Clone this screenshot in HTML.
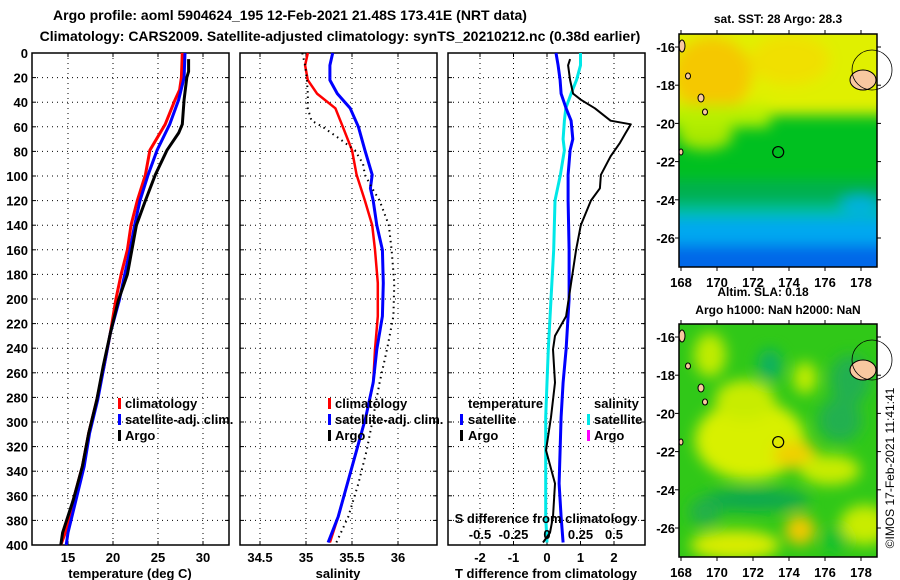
<!DOCTYPE html>
<html><head><meta charset="utf-8">
<style>
html,body{margin:0;padding:0;background:#fff;}
svg{display:block;font-family:"Liberation Sans",Arial,sans-serif;font-weight:bold;}
</style></head>
<body>
<svg id="chart" width="900" height="580" viewBox="0 0 900 580" xmlns="http://www.w3.org/2000/svg">
<defs>
<filter id="blur1" x="-20%" y="-20%" width="140%" height="140%"><feGaussianBlur stdDeviation="7"/></filter>
<filter id="blur2" x="-30%" y="-30%" width="160%" height="160%"><feGaussianBlur stdDeviation="7"/></filter>
<clipPath id="clipMap1"><rect x="679" y="34" width="198" height="233"/></clipPath>
<clipPath id="clipMap2"><rect x="679" y="324" width="198" height="233"/></clipPath>
</defs>
<text x="290" y="20" font-size="14" text-anchor="middle">Argo profile: aoml 5904624_195 12-Feb-2021 21.48S 173.41E (NRT data)</text>
<text x="340" y="41" font-size="14" text-anchor="middle">Climatology: CARS2009. Satellite-adjusted climatology: synTS_20210212.nc (0.38d earlier)</text>
<g id="plots"></g>
<g id="maps"></g>
</svg>
<script>
// ---------- data ----------
const depthTicks = [0,20,40,60,80,100,120,140,160,180,200,220,240,260,280,300,320,340,360,380,400];
const tempTicks = [15,20,25,30];
const salTicks = [34.5,35,35.5,36];
const tdiffTicks = [-2,-1,0,1,2];
const sdiffTicks = [-0.5,-0.25,0,0.25,0.5];
const sdiffTickLabels = ['-0.5','-0.25','0','0.25','0.5'];

const tClimDepth = [0,20,30,38,58,79,99,120,140,160,180,201,228,255,282,309,336,363,390,400];
const tClimVal   = [27.7,27.6,27.4,26.9,25.8,24.1,23.6,22.7,22.0,21.6,20.9,20.3,19.7,19.0,18.2,17.3,16.6,15.6,14.7,14.2];
const tSatDepth  = [0,20,38,58,79,99,120,140,160,180,201,228,255,282,309,336,363,390,400];
const tSatVal    = [28.0,27.9,27.3,26.3,24.9,23.9,23.0,22.4,21.9,21.3,20.7,19.7,19.0,18.3,17.4,16.8,15.9,15.0,14.8];
const tArgoDepth = [5,15,20,38,58,65,79,99,120,140,160,180,201,228,255,282,309,336,363,390,400];
const tArgoVal   = [28.4,28.4,28.2,27.9,27.7,27.3,26.0,24.7,23.6,22.6,22.1,21.6,20.6,19.7,18.9,18.2,17.3,16.6,15.6,14.4,14.2];

const sClimDepth = [0,10,22,33,45,60,79,99,120,140,160,187,214,241,268,296,323,350,377,398];
const sClimVal   = [35.02,34.99,35.02,35.12,35.32,35.40,35.50,35.55,35.64,35.72,35.75,35.78,35.78,35.75,35.73,35.65,35.55,35.45,35.35,35.26];
const sSatDepth  = [0,10,22,33,45,60,79,99,110,120,140,160,187,214,241,268,296,323,350,377,398];
const sSatVal    = [35.29,35.26,35.26,35.34,35.48,35.57,35.64,35.72,35.70,35.73,35.77,35.83,35.84,35.83,35.77,35.73,35.65,35.55,35.45,35.35,35.24];
const sArgoDepth = [0,10,22,33,45,55,60,70,79,90,99,110,120,140,160,187,214,241,268,296,323,350,377,398];
const sArgoVal   = [34.96,34.99,35.01,35.02,35.02,35.06,35.18,35.37,35.53,35.62,35.64,35.72,35.80,35.90,35.93,35.96,35.95,35.88,35.80,35.73,35.66,35.57,35.46,35.33];

const dtSatDepth = [0,10,22,33,45,55,70,79,99,120,160,200,241,268,296,323,350,377,398];
const dtSatVal   = [0.27,0.33,0.39,0.42,0.57,0.72,0.77,0.69,0.63,0.63,0.66,0.66,0.57,0.48,0.42,0.39,0.36,0.42,0.48];
const dtArgoDepth = [5,10,22,33,38,45,55,58,65,73,84,99,110,120,140,160,187,214,230,241,268,296,323,350,377,390,398];
const dtArgoVal   = [0.69,0.63,0.69,0.78,1.01,1.43,1.90,2.50,2.35,2.18,1.90,1.61,1.58,1.31,1.01,0.87,0.72,0.57,0.24,0.18,0.24,0.12,-0.03,0.24,0.18,0.09,-0.12];
const dsSatDepth = [0,10,22,33,45,55,70,79,99,120,160,200,241,268,296,323,350,377,398];
const dsSatVal   = [0.25,0.25,0.22,0.18,0.14,0.13,0.12,0.13,0.10,0.06,0.05,0.03,0.01,0.00,-0.01,-0.01,-0.01,-0.01,0.00];

// ---------- helpers ----------
const NS='http://www.w3.org/2000/svg';
const plots=document.getElementById('plots');
function mk(tag,attrs,parent){const e=document.createElementNS(NS,tag);for(const k in attrs)e.setAttribute(k,attrs[k]);(parent||plots).appendChild(e);return e;}
const TOP=53,BOT=545;
const yD=d=>TOP+d*(BOT-TOP)/400;
const xT=v=>68+(v-15)*9;
const xS=v=>306+(v-35)*92;
const xDT=v=>547+v*33.5;
const xDS=v=>547+v*134;

function frame(x0,x1,name,vTicks,xf,labels,ytickLabels){
  const g=mk('g',{});
  
  
  depthTicks.forEach(d=>{
    if(d>0&&d<400){const l=mk('line',{x1:x0,x2:x1,y1:yD(d),y2:yD(d),stroke:'#000','stroke-width':1,'stroke-dasharray':'1,4'},g);
    }
    mk('line',{x1:x0,x2:x0+4,y1:yD(d),y2:yD(d),stroke:'#000'},g);
    mk('line',{x1:x1-4,x2:x1,y1:yD(d),y2:yD(d),stroke:'#000'},g);
    if(ytickLabels){const t=mk('text',{x:x0-4,y:yD(d)+5,'font-size':13,'text-anchor':'end'},g);t.textContent=d;
    }
  });
  vTicks.forEach((v,i)=>{
    const x=xf(v);
    const l=mk('line',{x1:x,x2:x,y1:TOP,y2:BOT,stroke:'#000','stroke-width':1,'stroke-dasharray':'1,4'},g);
    
    mk('line',{x1:x,x2:x,y1:BOT-4,y2:BOT,stroke:'#000'},g);
    mk('line',{x1:x,x2:x,y1:TOP,y2:TOP+4,stroke:'#000'},g);
    const t=mk('text',{x:x,y:562,'font-size':13,'text-anchor':'middle'},g);t.textContent=labels[i];
    
  });
  const r=mk('rect',{x:x0,y:TOP,width:x1-x0,height:BOT-TOP,fill:'none',stroke:'#000','stroke-width':1.5},g);
  
  return g;
}
function line(depths,vals,xf,color,w,name,dash){
  const pts=depths.map((d,i)=>xf(vals[i]).toFixed(1)+','+yD(d).toFixed(1)).join(' ');
  const a={points:pts,fill:'none',stroke:color,'stroke-width':w,'stroke-linejoin':'round'};
  if(dash)a['stroke-dasharray']=dash;
  const p=mk('polyline',a);
  
  
  return p;
}
function txt(x,y,s,size,name,anchor,color){
  const t=mk('text',{x:x,y:y,'font-size':size,'text-anchor':anchor||'start',fill:color||'#000'});
  t.textContent=s;
  
  
  return t;
}
function legendMark(x,y,color,name){
  const r=mk('rect',{x:x,y:y-10,width:3,height:11,fill:color});
  
  
}

// ---------- panel 1: temperature ----------
frame(32,229,'temperature-panel',tempTicks,xT,tempTicks.map(String),true);
line(tClimDepth,tClimVal,xT,'#ff0000',3,'temp-climatology-line');
line(tSatDepth,tSatVal,xT,'#0000ff',3,'temp-satellite-line');
line(tArgoDepth,tArgoVal,xT,'#000',3,'temp-argo-line');
txt(130,578,'temperature (deg C)',13,'temperature-axis-title','middle');
legendMark(118,408,'#ff0000','legend-climatology-mark');txt(125,408,'climatology',13,'legend-climatology');
legendMark(118,424,'#0000ff','legend-satellite-mark');txt(125,424,'satellite-adj. clim.',13,'legend-satellite');
legendMark(118,440,'#000','legend-argo-mark');txt(125,440,'Argo',13,'legend-argo');

// ---------- panel 2: salinity ----------
frame(240,437,'salinity-panel',salTicks,xS,salTicks.map(String),false);
line(sClimDepth,sClimVal,xS,'#ff0000',2.5,'sal-climatology-line');
line(sSatDepth,sSatVal,xS,'#0000ff',3,'sal-satellite-line');
line(sArgoDepth,sArgoVal,xS,'#000',2,'sal-argo-line','1.5,4');
txt(338,578,'salinity',13,'salinity-axis-title','middle');
legendMark(328,408,'#ff0000','legend2-climatology-mark');txt(335,408,'climatology',13,'legend2-climatology');
legendMark(328,424,'#0000ff','legend2-satellite-mark');txt(335,424,'satellite-adj. clim.',13,'legend2-satellite');
legendMark(328,440,'#000','legend2-argo-mark');txt(335,440,'Argo',13,'legend2-argo');

// ---------- panel 3: differences ----------
frame(448,645,'difference-panel',tdiffTicks,xDT,tdiffTicks.map(String),false);
line(dsSatDepth,dsSatVal,xDS,'#00e8e8',3,'sdiff-satellite-line');
line(dtSatDepth,dtSatVal,xDT,'#0000ff',3,'tdiff-satellite-line');
line(dtArgoDepth,dtArgoVal,xDT,'#000',2,'tdiff-argo-line');
txt(546,578,'T difference from climatology',13,'tdiff-axis-title','middle');
txt(468,408,'temperature',13,'legend3-temperature-header');
legendMark(460,424,'#0000ff','legend3-tsat-mark');txt(468,424,'satellite',13,'legend3-tsat');
legendMark(460,440,'#000','legend3-targo-mark');txt(468,440,'Argo',13,'legend3-targo');
txt(594,408,'salinity',13,'legend3-salinity-header');
legendMark(587,424,'#00e8e8','legend3-ssat-mark');txt(594,424,'satellite',13,'legend3-ssat');
legendMark(587,440,'#ff00ff','legend3-sargo-mark');txt(594,440,'Argo',13,'legend3-sargo');
txt(546,523,'S difference from climatology',13,'sdiff-axis-title','middle');
sdiffTicks.forEach((v,i)=>{txt(xDS(v),539,sdiffTickLabels[i],13,'sdiff-tick-label','middle');});

// ---------- maps ----------
const maps=document.getElementById('maps');
const lonTicks=[168,170,172,174,176,178];
const latTicks=[-16,-18,-20,-22,-24,-26];
const lonX=l=>681+(l-168)*18;
function mapFrame(name){
  const g=document.createElementNS(NS,'g');maps.appendChild(g);
  
  
  return g;
}
function el(tag,attrs,parent){const e=document.createElementNS(NS,tag);for(const k in attrs)e.setAttribute(k,attrs[k]);parent.appendChild(e);return e;}

// Map 1: SST
const m1=mapFrame('sst-map');
const lat1=l=>47+(-16-l)*19.1;
const c1=el('g',{'clip-path':'url(#clipMap1)'},m1);
el('rect',{x:679,y:34,width:198,height:233,fill:'#00c020'},c1);
const b1=el('g',{filter:'url(#blur1)'},c1);
el('rect',{x:660,y:10,width:240,height:105,fill:'#e0f000'},b1);
el('ellipse',{cx:712,cy:75,rx:40,ry:38,fill:'#f5c800'},b1);
el('ellipse',{cx:790,cy:60,rx:40,ry:25,fill:'#f0e000'},b1);
el('ellipse',{cx:705,cy:135,rx:28,ry:15,fill:'#a8e800'},b1);
el('rect',{x:660,y:105,width:110,height:22,fill:'#b8f000'},b1);
el('rect',{x:660,y:180,width:240,height:30,fill:'#00b050'},b1);
el('rect',{x:660,y:205,width:240,height:18,fill:'#00c0a0'},b1);
el('rect',{x:660,y:218,width:240,height:30,fill:'#00a8f0'},b1);
el('rect',{x:660,y:245,width:240,height:40,fill:'#0068e8'},b1);
el('ellipse',{cx:860,cy:205,rx:20,ry:8,fill:'#00b0e8'},b1);
// Map 2: SLA
const m2=mapFrame('sla-map');
const c2=el('g',{'clip-path':'url(#clipMap2)'},m2);
el('rect',{x:679,y:324,width:198,height:233,fill:'#30c818'},c2);
const b2=el('g',{filter:'url(#blur2)'},c2);
el('ellipse',{cx:710,cy:355,rx:16,ry:22,fill:'#c0ec00'},b2);
el('ellipse',{cx:770,cy:365,rx:12,ry:16,fill:'#10b060'},b2);
el('ellipse',{cx:805,cy:378,rx:12,ry:16,fill:'#c0ec00'},b2);
el('ellipse',{cx:850,cy:380,rx:20,ry:25,fill:'#20b050'},b2);
el('ellipse',{cx:750,cy:440,rx:55,ry:40,fill:'#d8f000'},b2);
el('ellipse',{cx:745,cy:400,rx:30,ry:20,fill:'#c8ec00'},b2);
el('ellipse',{cx:795,cy:455,rx:22,ry:14,fill:'#f0d000'},b2);
el('ellipse',{cx:830,cy:470,rx:30,ry:15,fill:'#c8ec00'},b2);
el('ellipse',{cx:840,cy:420,rx:22,ry:22,fill:'#20b050'},b2);
el('ellipse',{cx:755,cy:500,rx:55,ry:11,fill:'#10a850'},b2);
el('ellipse',{cx:705,cy:512,rx:16,ry:14,fill:'#20b048'},b2);
el('ellipse',{cx:735,cy:545,rx:45,ry:15,fill:'#d8ec00'},b2);
el('ellipse',{cx:800,cy:530,rx:15,ry:15,fill:'#f0c800'},b2);
el('ellipse',{cx:865,cy:525,rx:25,ry:20,fill:'#c8ec00'},b2);
el('ellipse',{cx:835,cy:540,rx:12,ry:12,fill:'#10c030'},b2);

function mapDecor(g,top,latFn,circleY){
  el('ellipse',{cx:863,cy:top+46,rx:13,ry:10,fill:'#f8c8a0',stroke:'#000','stroke-width':1},g);
  el('circle',{cx:872,cy:top+36,r:20,fill:'none',stroke:'#000','stroke-width':0.8},g);
  el('ellipse',{cx:701,cy:top+64,rx:3,ry:4,fill:'#f8c8a0',stroke:'#000','stroke-width':1},g);
  el('ellipse',{cx:705,cy:top+78,rx:2.5,ry:3,fill:'#f8c8a0',stroke:'#000','stroke-width':1},g);
  el('ellipse',{cx:688,cy:top+42,rx:2.5,ry:3,fill:'#f8c8a0',stroke:'#000','stroke-width':1},g);
  el('ellipse',{cx:682,cy:top+12,rx:3,ry:6,fill:'#f8c8a0',stroke:'#000','stroke-width':1},g);
  el('ellipse',{cx:681,cy:top+118,rx:2,ry:3,fill:'#f8c8a0',stroke:'#000','stroke-width':1},g);
  const c=el('circle',{cx:lonX(173.4),cy:circleY,r:5.5,fill:'none',stroke:'#000','stroke-width':1.2},g);
  
  
  el('rect',{x:679,y:top,width:198,height:233,fill:'none',stroke:'#000','stroke-width':1.5},g);
  lonTicks.forEach(l=>{
    el('line',{x1:lonX(l),x2:lonX(l),y1:top,y2:top-4,stroke:'#000'},g);
    el('line',{x1:lonX(l),x2:lonX(l),y1:top+233,y2:top+237,stroke:'#000'},g);
    const t=el('text',{x:lonX(l),y:top+253,'font-size':13,'text-anchor':'middle'},g);t.textContent=l;
    
    
  });
  latTicks.forEach(l=>{
    const y=latFn(l);
    el('line',{x1:679,x2:675,y1:y,y2:y,stroke:'#000'},g);
    el('line',{x1:877,x2:881,y1:y,y2:y,stroke:'#000'},g);
    const t=el('text',{x:675,y:y+5,'font-size':13,'text-anchor':'end'},g);t.textContent=l;
    
    
  });
}
mapDecor(m1,34,lat1,lat1(-21.5));
const lat2=l=>337+(-16-l)*19.1;
mapDecor(m2,324,lat2,lat2(-21.5));
function mtxt(x,y,s,name,size){const t=el('text',{x:x,y:y,'font-size':size||12,'text-anchor':'middle'},maps);t.textContent=s;
  return t;}
mtxt(778,23,'sat. SST: 28 Argo: 28.3','sst-map-title');
mtxt(763,296,'Altim. SLA: 0.18','sla-label');
mtxt(778,314,'Argo h1000: NaN h2000: NaN','sla-map-title');
const cr=el('text',{x:0,y:0,'font-size':12,'font-weight':'normal','text-anchor':'middle',transform:'translate(894,468) rotate(-90)'},maps);
cr.textContent='©IMOS 17-Feb-2021 11:41:41';


</script>
</body></html>
